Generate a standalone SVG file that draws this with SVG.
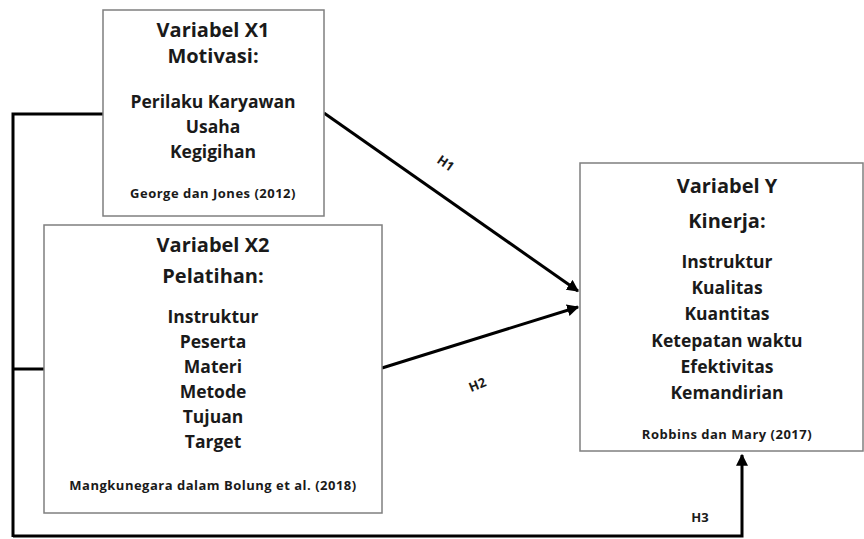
<svg xmlns="http://www.w3.org/2000/svg" width="864" height="539" viewBox="0 0 864 539">
<defs>
<style>
.box{fill:#fff;stroke:#7f7f7f;stroke-width:1.5}
.t{font-family:"Open Sans","Liberation Sans",Arial,sans-serif;font-weight:bold;fill:#1a1a1a;text-anchor:middle}
.h{font-size:20px}
.i{font-size:17.5px}
.c{font-size:13px;letter-spacing:0.5px}
.lbl{font-family:"Open Sans","Liberation Sans",Arial,sans-serif;font-weight:bold;font-size:13px;fill:#1a1a1a;text-anchor:middle}
.ln{fill:none;stroke:#000;stroke-width:3}
</style>
<marker id="ah" viewBox="0 0 10 10" refX="9" refY="5" markerWidth="4" markerHeight="4" orient="auto" markerUnits="strokeWidth">
<path d="M0,0 L10,5 L0,10 z" fill="#000"/>
</marker>
</defs>
<rect width="864" height="539" fill="#fff"/>
<g id="connectors">
<polyline class="ln" points="103,114 13,114 13,537"/>
<line class="ln" x1="13" y1="369" x2="44" y2="369"/>
<polyline class="ln" points="13,536 742,536 742,455" marker-end="url(#ah)"/>
<line class="ln" x1="324" y1="113" x2="578" y2="291" marker-end="url(#ah)"/>
<line class="ln" x1="382" y1="368" x2="578" y2="307" marker-end="url(#ah)"/>
<text class="lbl" transform="translate(443,167) rotate(35)">H1</text>
<text class="lbl" transform="translate(479,389) rotate(-22)">H2</text>
<text class="lbl" x="700" y="522">H3</text>
</g>
<g id="x1">
<rect class="box" x="103" y="10" width="221" height="206"/>
<text class="t h" x="213" y="37">Variabel X1</text>
<text class="t h" x="213" y="63">Motivasi:</text>
<text class="t i" x="213" y="108">Perilaku Karyawan</text>
<text class="t i" x="213" y="133">Usaha</text>
<text class="t i" x="213" y="158">Kegigihan</text>
<text class="t c" x="213" y="198">George dan Jones (2012)</text>
</g>
<g id="x2">
<rect class="box" x="44" y="225" width="338" height="288"/>
<text class="t h" x="213" y="252">Variabel X2</text>
<text class="t h" x="213" y="283">Pelatihan:</text>
<text class="t i" x="213" y="323">Instruktur</text>
<text class="t i" x="213" y="348">Peserta</text>
<text class="t i" x="213" y="373">Materi</text>
<text class="t i" x="213" y="398">Metode</text>
<text class="t i" x="213" y="423">Tujuan</text>
<text class="t i" x="213" y="448">Target</text>
<text class="t c" x="213" y="490">Mangkunegara dalam Bolung et al. (2018)</text>
</g>
<g id="y">
<rect class="box" x="580" y="163" width="283" height="288"/>
<text class="t h" x="727" y="193">Variabel Y</text>
<text class="t h" x="727" y="228">Kinerja:</text>
<text class="t i" x="727" y="268">Instruktur</text>
<text class="t i" x="727" y="294">Kualitas</text>
<text class="t i" x="727" y="320">Kuantitas</text>
<text class="t i" x="727" y="347">Ketepatan waktu</text>
<text class="t i" x="727" y="373">Efektivitas</text>
<text class="t i" x="727" y="399">Kemandirian</text>
<text class="t c" x="727" y="439">Robbins dan Mary (2017)</text>
</g>
</svg>
